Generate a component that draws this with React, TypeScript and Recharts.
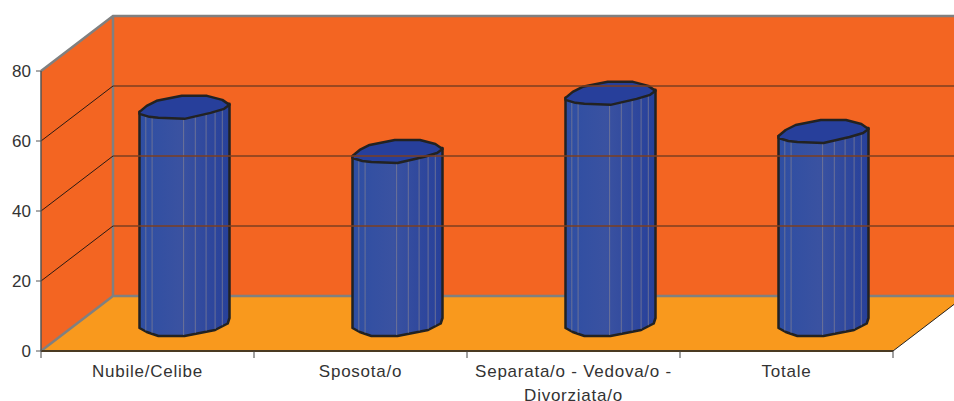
import React from "react";
import { BarChart, Bar, XAxis, YAxis, ReferenceArea, ReferenceLine, Text } from "recharts";

const categories = ["Nubile/Celibe", "Sposota/o", "Separata/o - Vedova/o - Divorziata/o", "Totale"];
const values = [61.9, 49.3, 65.9, 55];
const yTicks = [0, 20, 40, 60, 80];
const wallGrid = [20, 40, 60];
const rows = categories.map((name, i) => ({ name, value: values[i] }));

const DEPTH_X = 72;
const DEPTH_Y = 55;
const MID_X = 36.5;
const MID_Y = 27.5;
const TOP_CAP: [number, number][] = [[0, 5], [0.08, -1], [0.19, -6], [0.47, -11], [0.75, -11], [0.92, -7], [1, -2], [0.94, 2], [0.79, 6], [0.5, 12], [0.21, 11], [0.11, 10], [0, 7]];
const CAP_LOWER: [number, number][] = [[0, 7], [0.11, 10], [0.21, 11], [0.5, 12], [0.79, 6], [0.94, 2], [1, -2]];
const BASE: [number, number][] = [[0, 4.5], [0.08, 8.5], [0.21, 12.5], [0.5, 12.5], [0.84, 6.5], [0.98, 0], [1, -5.5]];
const FACETS = [0.07, 0.14, 0.49, 0.62, 0.74, 0.84, 0.92];

const lerp = (p: [number, number][], u: number) => {
  for (let i = 1; i < p.length; i++) {
    if (u <= p[i][0]) {
      const t = (u - p[i - 1][0]) / (p[i][0] - p[i - 1][0]);
      return p[i - 1][1] + t * (p[i][1] - p[i - 1][1]);
    }
  }
  return p[p.length - 1][1];
};

const Cylinder = (props: any) => {
  const { x, y, width, height } = props;
  const left = x + MID_X;
  const top = y - MID_Y;
  const bottom = y + height - MID_Y;
  const pts = (p: [number, number][], cy: number) => p.map(([u, d]) => `${left + u * width},${cy + d}`);
  const body = [`${left},${top + 5}`, ...pts(BASE, bottom), `${left + width},${top - 3}`].join(" ");
  return (
    <g>
      <polygon points={body} fill="url(#cyl)" stroke="#222" strokeWidth={2.5} strokeLinejoin="round" />
      {FACETS.map((u) => (
        <line key={u} x1={left + u * width} x2={left + u * width} y1={top + lerp(CAP_LOWER, u)} y2={bottom + lerp(BASE, u) - 1} stroke="#7d7d96" strokeWidth={1} strokeOpacity={0.75} />
      ))}
      <polygon points={pts(TOP_CAP, top).join(" ")} fill="#273f9b" stroke="#222" strokeWidth={2.5} strokeLinejoin="round" />
    </g>
  );
};

const Walls = (props: any) => {
  const { x, y, width, height } = props;
  const b = y + height;
  const bx = x + DEPTH_X;
  const r = x + width;
  return (
    <g>
      <polygon points={`${x},${y} ${bx},${y - DEPTH_Y} ${bx},${b - DEPTH_Y} ${x},${b}`} fill="#f36522" />
      <rect x={bx} y={y - DEPTH_Y} width={width} height={height} fill="#f36522" />
      <polygon points={`${x},${b} ${bx},${b - DEPTH_Y} ${r + DEPTH_X},${b - DEPTH_Y} ${r},${b}`} fill="#f9991d" />
      <polyline points={`${x},${y} ${bx},${y - DEPTH_Y} ${r + DEPTH_X},${y - DEPTH_Y}`} fill="none" stroke="#808080" strokeWidth={2.5} />
      <line x1={bx} x2={bx} y1={y - DEPTH_Y} y2={b - DEPTH_Y} stroke="#808080" strokeWidth={2.5} />
      <polyline points={`${x},${b} ${bx},${b - DEPTH_Y} ${r + DEPTH_X},${b - DEPTH_Y}`} fill="none" stroke="#808080" strokeWidth={2.5} />
      <line x1={r} x2={r + DEPTH_X} y1={b} y2={b - DEPTH_Y} stroke="#222" strokeWidth={1} />
    </g>
  );
};

const GridLine = (props: any) => {
  const { x1, x2, y1 } = props;
  return (
    <g>
      <line x1={x1} y1={y1} x2={x1 + DEPTH_X} y2={y1 - DEPTH_Y} stroke="#2a1a14" strokeWidth={1} />
      <line x1={x1 + DEPTH_X} y1={y1 - DEPTH_Y} x2={x2 + DEPTH_X} y2={y1 - DEPTH_Y} stroke="#7c3f20" strokeWidth={1.5} />
    </g>
  );
};

const CategoryTick = (props: any) => {
  const { x, y, payload, width, index } = props;
  const band = width / categories.length;
  return (
    <g>
      <line x1={x - band / 2} x2={x - band / 2} y1={y} y2={y + 7} stroke="#444" strokeWidth={1} />
      {index === categories.length - 1 && <line x1={x + band / 2} x2={x + band / 2} y1={y} y2={y + 7} stroke="#444" strokeWidth={1} />}
      <Text x={x} y={y + 14} width={205} textAnchor="middle" verticalAnchor="start" lineHeight={24} fontSize={17} letterSpacing={0.75} fill="#333" fontFamily="Liberation Sans">
        {payload.value}
      </Text>
    </g>
  );
};

export default function App() {
  return (
    <div style={{ position: "absolute", left: 0, top: 0, width: 954, height: 401, overflow: "hidden" }}>
      <BarChart width={954} height={401} data={rows} margin={{ top: 71, right: 61, bottom: 0, left: 0 }} barSize={90}>
        <defs>
          <linearGradient id="cyl" x1="0" x2="1" y1="0" y2="0">
            <stop offset="0" stopColor="#2e4ea3" />
            <stop offset="0.45" stopColor="#3a52a1" />
            <stop offset="1" stopColor="#27409a" />
          </linearGradient>
        </defs>
        <ReferenceArea y1={0} y2={80} shape={Walls} ifOverflow="visible" />
        {wallGrid.map((v) => (
          <ReferenceLine key={v} y={v} shape={GridLine} ifOverflow="visible" />
        ))}
        <XAxis dataKey="name" height={50} interval={0} tickMargin={0} tickSize={0} axisLine={{ stroke: "#4a3a22", strokeWidth: 2 }} tickLine={false} tick={CategoryTick} />
        <YAxis width={41} domain={[0, 80]} ticks={yTicks} tickSize={5} tickMargin={5} axisLine={{ stroke: "#555", strokeWidth: 1.5 }} tickLine={{ stroke: "#555" }} tick={{ fontSize: 17, fill: "#333", fontFamily: "Liberation Sans" }} />
        <Bar dataKey="value" shape={Cylinder} isAnimationActive={false} />
      </BarChart>
    </div>
  );
}
